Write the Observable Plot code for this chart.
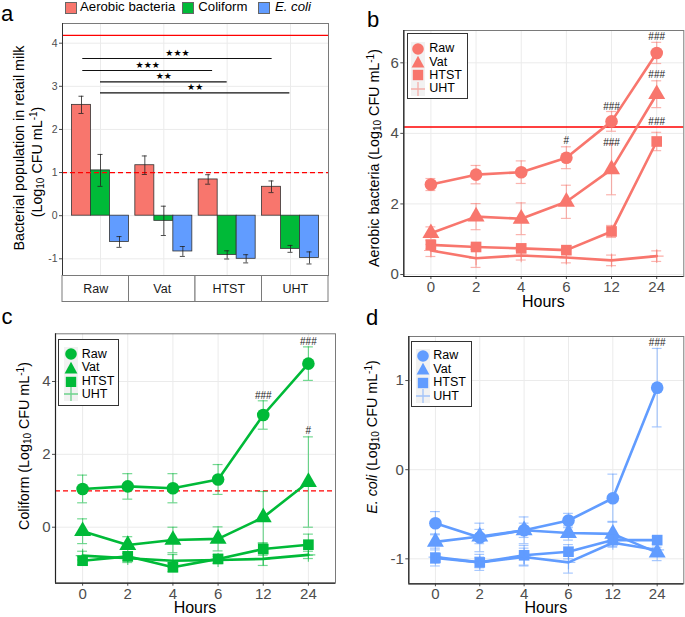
<!DOCTYPE html>
<html><head><meta charset="utf-8">
<script src="https://cdn.jsdelivr.net/npm/d3@7"></script>
<script src="https://cdn.jsdelivr.net/npm/@observablehq/plot@0.6"></script>
<style>
body{margin:0;background:#fff;font-family:"Liberation Sans",Arial,sans-serif;}
#root{position:relative;width:685px;height:617px;overflow:hidden;background:#fff;}
#root svg{position:absolute;}
.t{position:absolute;white-space:nowrap;line-height:1;color:#000;}
.rot{transform:translate(-50%,-50%) rotate(-90deg);}
.ctr{transform:translate(-50%,-50%);}
.sb{font-size:0.7em;vertical-align:-0.25em;}
.sp{font-size:0.7em;vertical-align:0.45em;}
</style></head><body><div id="root"></div>
<script>
// ---------------- DATA ----------------
const groups = ["Raw", "Vat", "HTST", "UHT"];
const measures = ["Aerobic bacteria", "Coliform", "E. coli"];
const aerobicBar = [2.57, 1.17, 0.84, 0.67];
const aerobicBarErr = [0.20, 0.215, 0.11, 0.135];
const coliformBar = [1.05, -0.12, -0.91, -0.77];
const coliformBarErr = [0.37, 0.34, 0.095, 0.08];
const ecoliBar = [-0.61, -0.83, -1.00, -0.98];
const ecoliBarErr = [0.125, 0.115, 0.095, 0.14];
const barTicks = [-1, 0, 1, 2, 3, 4];
const sigFrom = [0.72, 0.72, 1.0, 1.0];
const sigTo = [3.71, 2.77, 3.0, 3.99];
const sigY = [3.645, 3.367, 3.105, 2.85];
const sigStars = ["★★★", "★★★", "★★", "★★"];

const series = ["Raw", "Vat", "HTST", "UHT"];
const hours = ["0", "2", "4", "6", "12", "24"];

const aerobicRaw = [2.55, 2.83, 2.90, 3.31, 4.34, 6.28];
const aerobicRawSE = [0.17, 0.26, 0.32, 0.31, 0.28, 0.30];
const aerobicVat = [1.17, 1.64, 1.58, 2.06, 2.98, 5.11];
const aerobicVatSE = [0.18, 0.37, 0.45, 0.47, 0.72, 0.38];
const aerobicHTST = [0.84, 0.78, 0.74, 0.69, 1.22, 3.77];
const aerobicHTSTSE = [0.12, 0.07, 0.06, 0.06, 0.17, 0.26];
const aerobicUHT = [0.68, 0.46, 0.54, 0.48, 0.40, 0.52];
const aerobicUHTSE = [0.17, 0.26, 0.13, 0.15, 0.15, 0.15];
const aerobicTicks = [0, 2, 4, 6];
const aerobicMarkHour = ["6", "12", "12", "24", "24", "24"];
const aerobicMarkY = [3.80, 4.76, 3.72, 6.75, 5.67, 4.32];
const aerobicMarkText = ["#", "###", "###", "###", "###", "###"];

const coliformRaw = [1.05, 1.12, 1.07, 1.31, 3.08, 4.49];
const coliformRawSE = [0.38, 0.35, 0.40, 0.41, 0.39, 0.46];
const coliformVat = [-0.11, -0.49, -0.35, -0.32, 0.27, 1.24];
const coliformVatSE = [0.34, 0.23, 0.35, 0.33, 0.71, 1.24];
const coliformHTST = [-0.92, -0.80, -1.10, -0.87, -0.60, -0.48];
const coliformHTSTSE = [0.11, 0.12, 0.12, 0.12, 0.17, 0.29];
const coliformUHT = [-0.78, -0.85, -0.92, -0.90, -0.87, -0.76];
const coliformUHTSE = [0.12, 0.12, 0.17, 0.10, 0.18, 0.10];
const coliformTicks = [0, 2, 4];
const coliformMarkHour = ["12", "24", "24"];
const coliformMarkY = [3.62, 5.08, 2.65];
const coliformMarkText = ["###", "###", "#"];

const ecoliRaw = [-0.60, -0.76, -0.68, -0.57, -0.32, 0.92];
const ecoliRawSE = [0.13, 0.16, 0.15, 0.08, 0.27, 0.44];
const ecoliVat = [-0.81, -0.75, -0.68, -0.71, -0.72, -0.93];
const ecoliVatSE = [0.09, 0.08, 0.08, 0.08, 0.14, 0.09];
const ecoliHTST = [-0.99, -1.04, -0.96, -0.92, -0.79, -0.79];
const ecoliHTSTSE = [0.06, 0.06, 0.11, 0.08, 0.05, 0.04];
const ecoliUHT = [-0.98, -1.04, -0.98, -1.04, -0.82, -0.90];
const ecoliUHTSE = [0.10, 0.09, 0.10, 0.12, 0.05, 0.03];
const ecoliTicks = [-1, 0, 1];
const ecoliMarkHour = ["24"];
const ecoliMarkY = [1.42];
const ecoliMarkText = ["###"];

const limitLine = 4.18;   // solid red reference
const dashedLine = 1.0;   // dashed red reference

// ---------------- STYLE ----------------
const RED = "#F8766D", GREEN = "#00BA38", BLUE = "#619CFF", LINE_RED = "#FF0000";
const FONT = '"Liberation Sans", Arial, sans-serif';
const FRAME = "#7A7A7A";
const fmt = d => (d < 0 ? "-" + Math.abs(d) : String(d));
const root = document.getElementById("root");

function put(svg, left, top) {
  svg.style.left = left + "px"; svg.style.top = top + "px";
  root.appendChild(svg);
}
function label(html, x, y, size, cls, extra) {
  const d = document.createElement("div");
  d.className = "t " + (cls || "");
  d.innerHTML = html;
  d.style.left = x + "px"; d.style.top = y + "px"; d.style.fontSize = size + "px";
  if (extra) Object.assign(d.style, extra);
  root.appendChild(d);
  return d;
}
const plusSymbol = {
  draw(ctx, size) {
    const r = Math.sqrt(size / Math.PI) * 1.15;
    ctx.moveTo(-r, 0); ctx.lineTo(r, 0);
    ctx.moveTo(0, -r); ctx.lineTo(0, r);
  }
};

// ---------------- PANEL A ----------------
(function () {
  const per = (258.3 - 42.7) / 5;
  const yHi = 4 + (42.7 - 23) / per;
  const yLo = -1 - (275 - 258.3) / per;
  const vals = [aerobicBar, coliformBar, ecoliBar];
  const errs = [aerobicBarErr, coliformBarErr, ecoliBarErr];
  const cols = [RED, GREEN, BLUE];
  const rowsByMeasure = vals.map((arr, j) => arr.map((v, i) => ({ g: groups[i], x: i + 1 + (j - 1) * 0.3, v, e: errs[j][i] })));
  const allRows = rowsByMeasure.flat();
  const sig = sigFrom.map((f, i) => ({ f, t: sigTo[i], y: sigY[i], s: sigStars[i] }));
  const svg = Plot.plot({
    width: 340, height: 276,
    marginLeft: 62, marginRight: 12, marginTop: 23, marginBottom: 1,
    style: { fontFamily: FONT, fontSize: "10.5px", color: "#4D4D4D", background: "transparent", overflow: "visible" },
    x: { domain: [0.4, 4.6], axis: null },
    y: { domain: [yLo, yHi], ticks: barTicks, tickFormat: fmt, tickSize: 3, tickPadding: 2, label: null },
    marks: [
      Plot.ruleY(barTicks, { stroke: "#EBEBEB", strokeWidth: 1 }),
      Plot.ruleX(groups.map((g, i) => i + 1), { stroke: "#EBEBEB", strokeWidth: 1 }),
      Plot.frame({ stroke: FRAME, strokeWidth: 1 }),
      ...rowsByMeasure.map((rows, j) => Plot.rect(rows, { x1: d => d.x - 0.15, x2: d => d.x + 0.15, y1: () => 0, y2: "v", fill: cols[j], stroke: "#333", strokeWidth: 0.8 })),
      Plot.ruleY([limitLine], { stroke: LINE_RED, strokeWidth: 1.3 }),
      Plot.ruleY([dashedLine], { stroke: LINE_RED, strokeWidth: 1.3, strokeDasharray: "5,3" }),
      Plot.ruleX(allRows, { x: "x", y1: d => d.v - d.e, y2: d => d.v + d.e, stroke: "#222", strokeWidth: 0.8 }),
      Plot.ruleY(allRows, { x1: d => d.x - 0.04, x2: d => d.x + 0.04, y: d => d.v + d.e, stroke: "#222", strokeWidth: 0.8 }),
      Plot.ruleY(allRows, { x1: d => d.x - 0.04, x2: d => d.x + 0.04, y: d => d.v - d.e, stroke: "#222", strokeWidth: 0.8 }),
      Plot.ruleY(sig, { x1: "f", x2: "t", y: "y", stroke: "#111", strokeWidth: 1.2 }),
      Plot.text(sig, { x: d => (d.f + d.t) / 2, y: "y", text: "s", dy: -5.5, fontSize: 9, fontFamily: "DejaVu Sans", fill: "#000" }),
      Plot.ruleX([0.4], { stroke: "#333", strokeWidth: 1 })
    ]
  });
  put(svg, 0, 0);
  // strip of category labels under panel a
  const strips = groups.map((g, i) => ({ g, a: 0.4 + i * 1.05, b: 0.4 + (i + 1) * 1.05 }));
  const strip = Plot.plot({
    width: 340, height: 27,
    marginLeft: 62, marginRight: 12, marginTop: 0.5, marginBottom: 0.5,
    style: { fontFamily: FONT, fontSize: "12.5px", background: "transparent", overflow: "visible" },
    x: { domain: [0.4, 4.6], axis: null },
    y: { domain: [0, 1], axis: null },
    marks: [
      Plot.rect(strips, { x1: "a", x2: "b", y1: () => 0, y2: () => 1, fill: "white", stroke: FRAME, strokeWidth: 1 }),
      Plot.text(strips, { x: d => (d.a + d.b) / 2, y: () => 0.5, text: "g", fontSize: 12.5, fill: "#1A1A1A" })
    ]
  });
  put(strip, 0, 274.5);
})();

// ---------------- LINE PANELS ----------------
function linePanel(cfg) {
  const rows = [];
  series.forEach((s, k) => hours.forEach((h, i) => rows.push({ s, x: i + 1, v: cfg.means[k][i], e: cfg.errs[k][i] })));
  const by = s => rows.filter(d => d.s === s);
  const c = cfg.color;
  const ann = cfg.markHour.map((h, i) => ({ x: hours.indexOf(h) + 1, y: cfg.markY[i], t: cfg.markText[i] }));
  const xs = hours.map((h, i) => i + 1);
  const svg = Plot.plot({
    width: cfg.w, height: cfg.h,
    marginLeft: cfg.m[0], marginRight: cfg.m[1], marginTop: cfg.m[2], marginBottom: cfg.m[3],
    style: { fontFamily: FONT, fontSize: "15px", color: "#4D4D4D", background: "transparent", overflow: "visible" },
    x: { domain: [0.4, 6.6], ticks: xs, tickFormat: i => hours[i - 1], tickSize: 3, tickPadding: 2, label: null },
    y: { domain: [cfg.lo, cfg.hi], ticks: cfg.ticks, tickFormat: fmt, tickSize: 3, tickPadding: 2, label: null },
    marks: [
      Plot.ruleY(cfg.ticks, { stroke: "#EBEBEB", strokeWidth: 1 }),
      Plot.ruleX(xs, { stroke: "#EBEBEB", strokeWidth: 1 }),
      ...(cfg.solid != null ? [Plot.ruleY([cfg.solid], { stroke: LINE_RED, strokeWidth: 1.3 })] : []),
      ...(cfg.dashed != null ? [Plot.ruleY([cfg.dashed], { stroke: LINE_RED, strokeWidth: 1.3, strokeDasharray: "5,3" })] : []),
      Plot.ruleX(rows, { x: "x", y1: d => d.v - d.e, y2: d => d.v + d.e, stroke: c, strokeOpacity: 0.55, strokeWidth: 1.2 }),
      Plot.ruleY(rows, { x1: d => d.x - 0.11, x2: d => d.x + 0.11, y: d => d.v + d.e, stroke: c, strokeOpacity: 0.55, strokeWidth: 1.2 }),
      Plot.ruleY(rows, { x1: d => d.x - 0.11, x2: d => d.x + 0.11, y: d => d.v - d.e, stroke: c, strokeOpacity: 0.55, strokeWidth: 1.2 }),
      Plot.line(rows, { x: "x", y: "v", z: "s", stroke: c, strokeWidth: 2.6 }),
      Plot.dot(by("Raw"), { x: "x", y: "v", r: 6.3, fill: c, symbol: "circle" }),
      Plot.dot(by("Vat"), { x: "x", y: "v", r: 6.3, fill: c, symbol: "triangle" }),
      Plot.dot(by("HTST"), { x: "x", y: "v", r: 6, fill: c, symbol: "square" }),
      Plot.dot(by("UHT"), { x: "x", y: "v", r: 6, symbol: plusSymbol, fill: "none", stroke: c, strokeOpacity: 0.6, strokeWidth: 1.2 }),
      Plot.text(ann, { x: "x", y: "y", text: "t", fontSize: 10, fill: "#222" }),
      Plot.frame({ stroke: FRAME, strokeWidth: 1 }),
      Plot.ruleX([0.4], { stroke: "#222", strokeWidth: 1.2 }),
      Plot.ruleY([cfg.lo], { stroke: "#222", strokeWidth: 1.2 })
    ]
  });
  put(svg, cfg.left, cfg.top);
}

linePanel({
  left: 340, top: 0, w: 345, h: 300, m: [63.3, 1.7, 30, 24],
  lo: -0.057, hi: 6.916, ticks: aerobicTicks, color: RED,
  means: [aerobicRaw, aerobicVat, aerobicHTST, aerobicUHT],
  errs: [aerobicRawSE, aerobicVatSE, aerobicHTSTSE, aerobicUHTSE],
  markHour: aerobicMarkHour, markY: aerobicMarkY, markText: aerobicMarkText,
  solid: limitLine
});
linePanel({
  left: 0, top: 300, w: 340, h: 317, m: [55, 5, 33.3, 34.3],
  lo: -1.537, hi: 5.309, ticks: coliformTicks, color: GREEN,
  means: [coliformRaw, coliformVat, coliformHTST, coliformUHT],
  errs: [coliformRawSE, coliformVatSE, coliformHTSTSE, coliformUHTSE],
  markHour: coliformMarkHour, markY: coliformMarkY, markText: coliformMarkText,
  dashed: dashedLine
});
linePanel({
  left: 340, top: 300, w: 345, h: 317, m: [68.3, 1.7, 36, 33.7],
  lo: -1.280, hi: 1.494, ticks: ecoliTicks, color: BLUE,
  means: [ecoliRaw, ecoliVat, ecoliHTST, ecoliUHT],
  errs: [ecoliRawSE, ecoliVatSE, ecoliHTSTSE, ecoliUHTSE],
  markHour: ecoliMarkHour, markY: ecoliMarkY, markText: ecoliMarkText
});

// ---------------- TEXT: labels, titles ----------------
const LOG = '(Log<span class="sb">10</span> CFU mL<span class="sp">-1</span>)';
label("a", 1, 3.4, 22);
label("b", 367, 9.4, 22);
label("c", 1.5, 306.4, 22);
label("d", 366, 307.4, 22);
label("Bacterial population in retail milk", 18.5, 147.5, 14.3, "rot");
label(LOG, 38.4, 161.5, 14.3, "rot");
label("Aerobic bacteria " + LOG, 374.5, 157.5, 14.3, "rot");
label("Coliform " + LOG, 25.2, 446, 14.3, "rot");
label("<i>E. coli</i> " + LOG, 373, 437, 14.3, "rot");
label("Hours", 543.3, 302.3, 16, "ctr");
label("Hours", 195, 608.3, 16, "ctr");
label("Hours", 545.8, 608.3, 16, "ctr");

// legend for panel a (top)
[[measures[0], RED, 65, 80], [measures[1], GREEN, 181.7, 198.3], ["<i>" + measures[2] + "</i>", BLUE, 258, 275]].forEach(([txt, col, sx, tx]) => {
  const sq = document.createElement("div");
  Object.assign(sq.style, { position: "absolute", left: sx + "px", top: "1.5px", width: "10px", height: "10px", background: col, border: "1px solid #666" });
  root.appendChild(sq);
  label(txt, tx, 0.4, 13.2, "", { color: "#000" });
});

// legends inside panels b-d
function legend(left, top, w, h, rowsY, symX, textX, col) {
  const box = document.createElement("div");
  Object.assign(box.style, { position: "absolute", left: left + "px", top: top + "px", width: w + "px", height: h + "px", border: "1px solid #333", background: "#fff", boxSizing: "border-box" });
  root.appendChild(box);
  const shapes = [
    `<circle cx="7" cy="7" r="5.8" fill="${col}"/>`,
    `<path d="M7,0.8 L13.4,12.4 L0.6,12.4 Z" fill="${col}"/>`,
    `<rect x="1.8" y="1.8" width="10.4" height="10.4" fill="${col}"/>`,
    `<path d="M0,7 H14 M7,0 V14" stroke="${col}" stroke-opacity="0.55" stroke-width="1.3" fill="none"/>`
  ];
  series.forEach((s, i) => {
    const sv = document.createElementNS("http://www.w3.org/2000/svg", "svg");
    sv.setAttribute("width", 14); sv.setAttribute("height", 14);
    sv.innerHTML = `<rect x="0" y="0" width="14" height="14" fill="#F2F2F2"/>` + shapes[i];
    Object.assign(sv.style, { position: "absolute", left: (left + symX - 7) + "px", top: (top + rowsY[i] - 7) + "px" });
    root.appendChild(sv);
    label(s, left + textX, top + rowsY[i] - 6.25, 12.5, "", { color: "#000" });
  });
}
legend(406.7, 33.3, 61, 66, [15.4, 28.7, 42, 55.4], 11, 22.6, RED);
legend(58.3, 339.3, 61, 66.7, [15, 28.4, 42.4, 55], 12.4, 23.4, GREEN);
legend(411, 340.7, 60.7, 66, [15, 28.6, 42, 55.3], 12.3, 22.3, BLUE);
</script></body></html>
